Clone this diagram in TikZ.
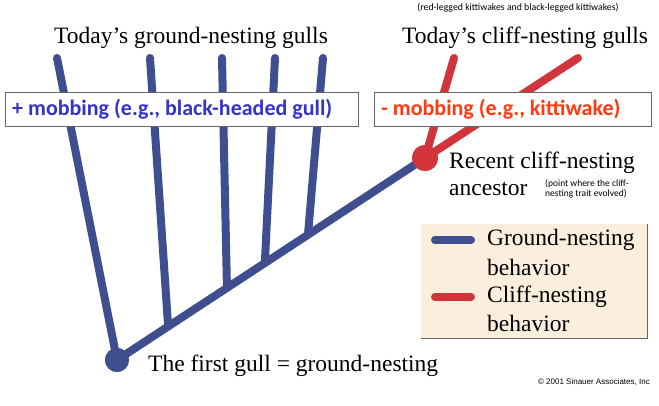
\documentclass[tikz,border=0pt]{standalone}
\usepackage{xcolor}
\usepackage{fontspec}
\setmainfont{Liberation Serif}
\newfontfamily\boxfont{Carlito}
\newfontfamily\credfont{Liberation Sans}
\usetikzlibrary{positioning,calc}
\definecolor{groundblue}{HTML}{3F4E8E}
\definecolor{cliffred}{HTML}{D2343C}
\definecolor{plustext}{HTML}{3434C8}
\definecolor{minustext}{HTML}{FF3A10}
\definecolor{legendfill}{HTML}{FCEEDC}

\begin{document}
\begin{tikzpicture}[x=1pt,y=-1pt,
    branch/.style={line width=8pt, line cap=round},
    dot/.style={circle, inner sep=0pt},
    label/.style={font=\fontsize{23.5}{26}\selectfont, inner sep=0pt},
    mobbox/.style={draw=black!60, fill=white, line width=0.8pt},
    mobtext/.style={font=\boxfont\bfseries\fontsize{22}{24}\selectfont, inner sep=0pt, anchor=west}]
    \useasboundingbox (0,0) rectangle (659,406);

    % nodes of the tree
    \node[dot, fill=groundblue, minimum size=24pt] (root) at (117,360) {};
    \node[dot, fill=cliffred, minimum size=26pt] (anc) at (425,158) {};
    \coordinate (g1) at (57,58);
    \coordinate (g2) at (150,58);
    \coordinate (g3) at (222,58);
    \coordinate (g4) at (275,58);
    \coordinate (g5) at (323,58);
    \coordinate (c1) at (454,58);
    \coordinate (c2) at (578,58);

    % branches
    \draw[branch, groundblue] (root.center) -- (anc.center);
    \draw[branch, groundblue] (root.center) -- (g1);
    \foreach \t/\g in {0.166/g2, 0.357/g3, 0.48/g4, 0.62/g5}
        \draw[branch, groundblue] ($(root.center)!\t!(anc.center)$) -- (\g);
    \draw[branch, cliffred] (anc.center) -- (c1);
    \draw[branch, cliffred] (anc.center) -- (c2);

    % mobbing boxes
    \draw[mobbox] (5,92) rectangle (358,126);
    \draw[mobbox] (374,92) rectangle (651,126);
    \node[mobtext, text=plustext] (plus) at (12,109) {+ mobbing (e.g., black-headed gull)};
    \node[mobtext, text=minustext] (minus) at (381,109) {- mobbing (e.g., kittiwake)};

    % redraw the dots on top
    \fill[groundblue] (root) circle (12pt);
    \fill[cliffred] (anc) circle (13pt);

    % headings
    \node[label] (ground) at (191,38) {Today’s ground-nesting gulls};
    \node[label] (cliff) at (525,38) {Today’s cliff-nesting gulls};
    \node[font=\boxfont\fontsize{9.8}{11}\selectfont, inner sep=0pt] (kitti) at (518,8) {(red-legged kittiwakes and black-legged kittiwakes)};

    \node[label, anchor=west] (recent) at (449,163) {Recent cliff-nesting};
    \node[label, anchor=west] (ancestor) at (449,189) {ancestor};
    \node[font=\boxfont\fontsize{9.5}{10.5}\selectfont, align=left, anchor=west, inner sep=0pt] (trait) at (545,189) {(point where the cliff-\\nesting trait evolved)};

    \node[label, anchor=west] (first) at (148,366) {The first gull = ground-nesting};

    % legend
    \fill[legendfill] (421,224) rectangle (647,338);
    \draw[black!60, line width=1pt] (647,224) -- (647,338) -- (421,338);
    \coordinate (lb1) at (435,240);
    \coordinate (lb2) at (471,240);
    \coordinate (lr1) at (435,297);
    \coordinate (lr2) at (471,297);
    \draw[branch, groundblue] (lb1) -- (lb2);
    \draw[branch, cliffred] (lr1) -- (lr2);
    \node[label, anchor=west] (gn) at (487,240) {Ground-nesting};
    \node[label, anchor=west] (gnb) at (487,267) {behavior};
    \node[label, anchor=west] (cn) at (487,297) {Cliff-nesting};
    \node[label, anchor=west] (cnb) at (487,323) {behavior};

    \node[font=\credfont\fontsize{8}{9}\selectfont, anchor=east, inner sep=0pt] (cred) at (650,382) {© 2001 Sinauer Associates, Inc};
\end{tikzpicture}
\end{document}
